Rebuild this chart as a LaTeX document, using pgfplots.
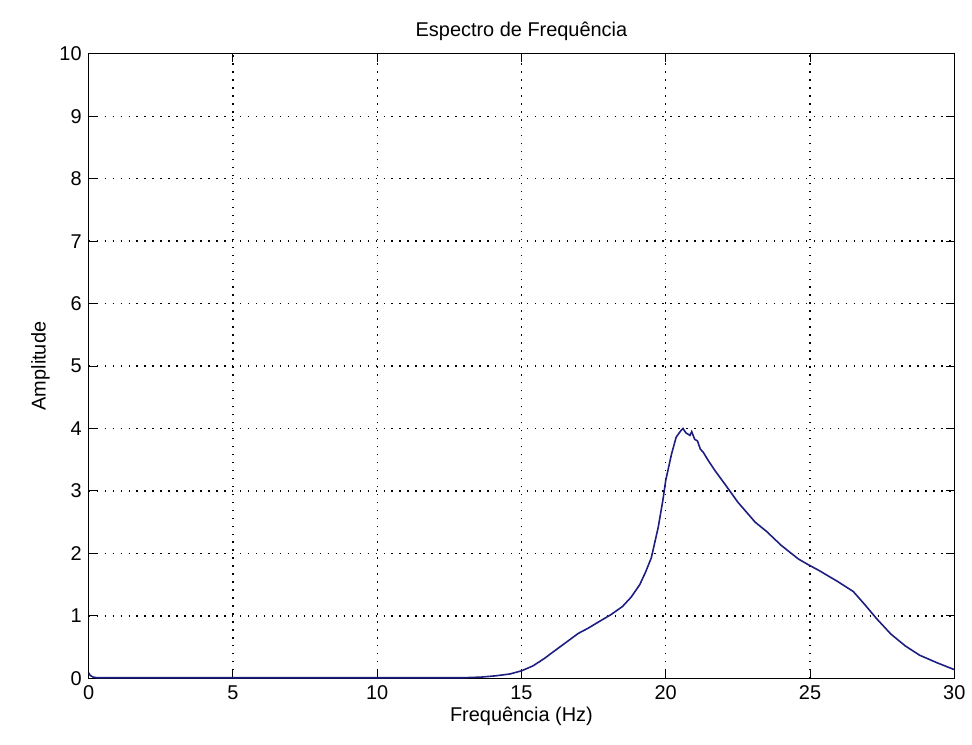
\documentclass[border=0pt]{standalone}
\usepackage{pgfplots}
\pgfplotsset{compat=1.18}
\usepackage{fontspec}
\setmainfont{Liberation Sans}
\definecolor{matblue}{RGB}{30,30,130}

\begin{document}
\begin{tikzpicture}
\begin{axis}[
    scale only axis,
    width=434.5pt, height=313.5pt,
    xmin=0, xmax=30, ymin=0, ymax=10,
    xtick={0,5,...,30}, ytick={0,1,...,10},
    tick align=inside,
    major tick length=4pt,
    grid=major,
    major grid style={black, line width=0.7pt, dash pattern=on 0.7pt off 3.3pt},
    axis line style={black, line width=0.5pt},
    tick style={black, line width=0.5pt},
    ticklabel style={font=\normalsize},
    /pgf/number format/assume math mode=true,
    title={Espectro de Frequência},
    title style={yshift=-3pt},
    xlabel={Frequência (Hz)},
    ylabel={Amplitude},
    xlabel style={yshift=3pt},
    ylabel style={yshift=-2pt},
    ]
\addplot[matblue, line width=0.8pt] coordinates {
 (0,0.09) (0.05,0.05) (0.15,0.02) (0.3,0.01) (2,0.01) (5,0.01) (8,0.01)
 (11,0.01) (13,0.01) (13.6,0.02) (14.1,0.04) (14.6,0.07) (15,0.12)
 (15.4,0.2) (15.8,0.32) (16.0,0.39) (16.5,0.56) (16.97,0.72) (17.3,0.8)
 (17.66,0.9) (18.1,1.02) (18.5,1.15) (18.8,1.3) (19.1,1.5) (19.3,1.7)
 (19.5,1.93) (19.74,2.42) (19.9,2.85) (20.0,3.17) (20.2,3.59) (20.36,3.86)
 (20.53,3.97) (20.6,4.0) (20.7,3.93) (20.84,3.89) (20.9,3.95) (21.0,3.83)
 (21.1,3.8) (21.2,3.67) (21.3,3.62) (21.47,3.49) (21.7,3.33) (22.05,3.11)
 (22.5,2.82) (23.1,2.5) (23.5,2.35) (24.0,2.13) (24.6,1.91) (24.9,1.83)
 (25.3,1.73) (25.96,1.55) (26.5,1.39) (26.9,1.18) (27.3,0.96) (27.8,0.71)
 (28.3,0.52) (28.8,0.37) (29.4,0.25) (30.0,0.14)
};
\end{axis}
\path (current axis.south west) ++(-44.5pt,-33pt);
\path (current axis.north east) ++(7.5pt,27pt);
\end{tikzpicture}
\end{document}
